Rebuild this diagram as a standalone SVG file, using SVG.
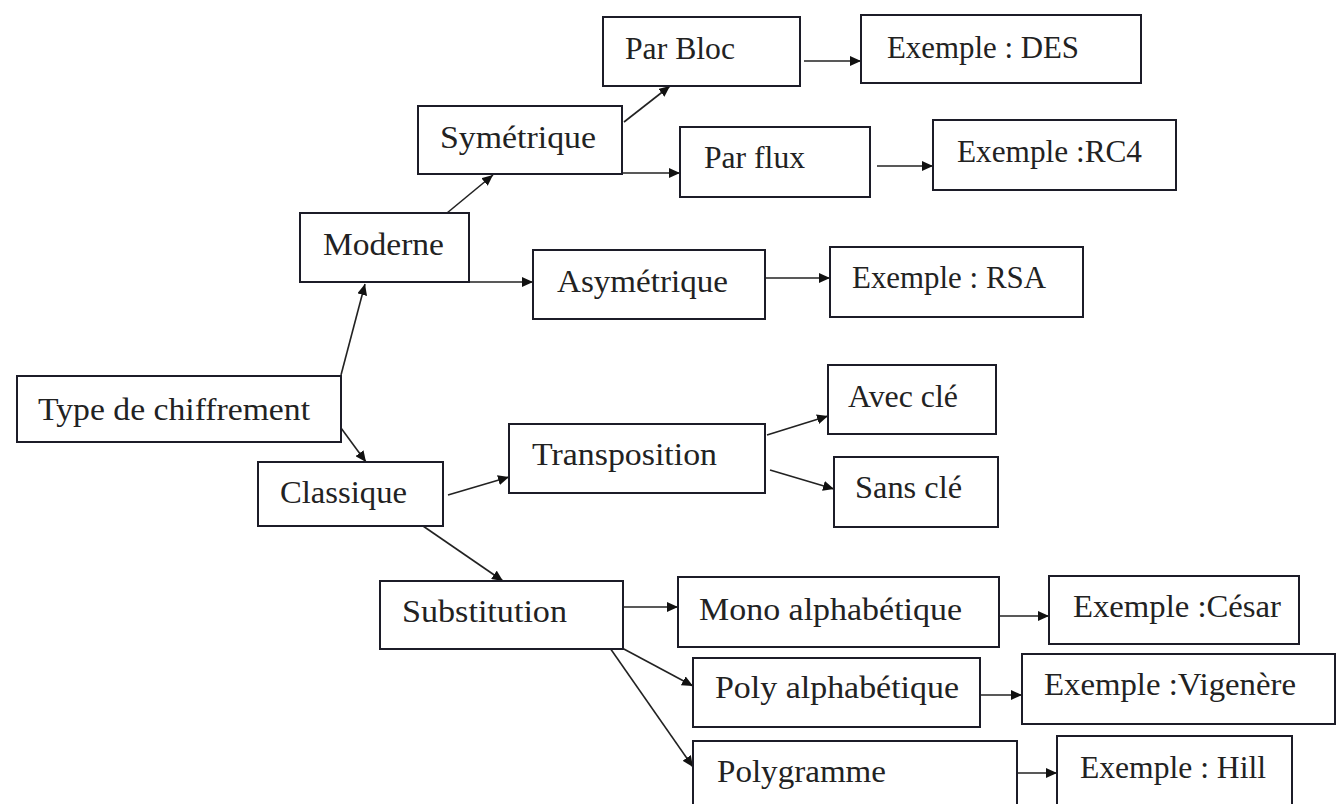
<svg xmlns="http://www.w3.org/2000/svg" width="1341" height="804" viewBox="0 0 1341 804">
<style>
.box{fill:#ffffff;stroke:#1c1c28;stroke-width:2}
.lbl{font-family:"Liberation Serif","DejaVu Serif",serif;font-size:32px;fill:#222222}
.edge{stroke:#222222;stroke-width:1.6;fill:none}
</style>
<defs>
<marker id="ah" markerUnits="userSpaceOnUse" markerWidth="12" markerHeight="10" refX="11" refY="5" orient="auto">
<path d="M0,0 L11,5 L0,10 z" fill="#111111"/>
</marker>
</defs>
<rect width="1341" height="804" fill="#ffffff"/>
<g id="connectors">
<line class="edge" x1="341" y1="375" x2="365" y2="284" marker-end="url(#ah)"/>
<line class="edge" x1="341" y1="428" x2="366" y2="462" marker-end="url(#ah)"/>
<line class="edge" x1="447" y1="213" x2="493" y2="175" marker-end="url(#ah)"/>
<line class="edge" x1="469" y1="282" x2="533" y2="282" marker-end="url(#ah)"/>
<line class="edge" x1="624" y1="122" x2="670" y2="86" marker-end="url(#ah)"/>
<line class="edge" x1="622" y1="173" x2="680" y2="173" marker-end="url(#ah)"/>
<line class="edge" x1="804" y1="61" x2="861" y2="61" marker-end="url(#ah)"/>
<line class="edge" x1="877" y1="166" x2="933" y2="166" marker-end="url(#ah)"/>
<line class="edge" x1="765" y1="278" x2="830" y2="278" marker-end="url(#ah)"/>
<line class="edge" x1="448" y1="495" x2="509" y2="477" marker-end="url(#ah)"/>
<line class="edge" x1="423" y1="526" x2="503" y2="581" marker-end="url(#ah)"/>
<line class="edge" x1="767" y1="435" x2="828" y2="416" marker-end="url(#ah)"/>
<line class="edge" x1="770" y1="470" x2="834" y2="489" marker-end="url(#ah)"/>
<line class="edge" x1="623" y1="607" x2="678" y2="607" marker-end="url(#ah)"/>
<line class="edge" x1="622" y1="648" x2="693" y2="686" marker-end="url(#ah)"/>
<line class="edge" x1="610" y1="648" x2="693" y2="767" marker-end="url(#ah)"/>
<line class="edge" x1="999" y1="616" x2="1049" y2="616" marker-end="url(#ah)"/>
<line class="edge" x1="981" y1="695" x2="1022" y2="695" marker-end="url(#ah)"/>
<line class="edge" x1="1018" y1="773" x2="1057" y2="773" marker-end="url(#ah)"/>
</g>
<g id="n-type"><rect class="box" x="17" y="376" width="324" height="66"/><text class="lbl" x="38" y="420" textLength="272" lengthAdjust="spacingAndGlyphs">Type de chiffrement</text></g>
<g id="n-moderne"><rect class="box" x="300" y="213" width="169" height="69"/><text class="lbl" x="323" y="255" textLength="121" lengthAdjust="spacingAndGlyphs">Moderne</text></g>
<g id="n-symetrique"><rect class="box" x="418" y="106" width="204" height="68"/><text class="lbl" x="440" y="148" textLength="156" lengthAdjust="spacingAndGlyphs">Symétrique</text></g>
<g id="n-parbloc"><rect class="box" x="603" y="17" width="197" height="69"/><text class="lbl" x="625" y="59" textLength="110" lengthAdjust="spacingAndGlyphs">Par Bloc</text></g>
<g id="n-des"><rect class="box" x="861" y="15" width="280" height="68"/><text class="lbl" x="887" y="58" textLength="192" lengthAdjust="spacingAndGlyphs">Exemple : DES</text></g>
<g id="n-parflux"><rect class="box" x="680" y="127" width="190" height="70"/><text class="lbl" x="704" y="168" textLength="101" lengthAdjust="spacingAndGlyphs">Par flux</text></g>
<g id="n-rc4"><rect class="box" x="933" y="120" width="243" height="70"/><text class="lbl" x="957" y="162" textLength="185" lengthAdjust="spacingAndGlyphs">Exemple :RC4</text></g>
<g id="n-asymetrique"><rect class="box" x="533" y="250" width="232" height="69"/><text class="lbl" x="557" y="292" textLength="171" lengthAdjust="spacingAndGlyphs">Asymétrique</text></g>
<g id="n-rsa"><rect class="box" x="830" y="247" width="253" height="70"/><text class="lbl" x="852" y="288" textLength="194" lengthAdjust="spacingAndGlyphs">Exemple : RSA</text></g>
<g id="n-classique"><rect class="box" x="258" y="462" width="185" height="64"/><text class="lbl" x="280" y="503" textLength="127" lengthAdjust="spacingAndGlyphs">Classique</text></g>
<g id="n-transposition"><rect class="box" x="509" y="424" width="256" height="69"/><text class="lbl" x="532" y="465" textLength="185" lengthAdjust="spacingAndGlyphs">Transposition</text></g>
<g id="n-avec"><rect class="box" x="828" y="365" width="168" height="69"/><text class="lbl" x="848" y="407" textLength="110" lengthAdjust="spacingAndGlyphs">Avec clé</text></g>
<g id="n-sans"><rect class="box" x="834" y="457" width="164" height="70"/><text class="lbl" x="855" y="498" textLength="107" lengthAdjust="spacingAndGlyphs">Sans clé</text></g>
<g id="n-substitution"><rect class="box" x="380" y="581" width="243" height="68"/><text class="lbl" x="402" y="622" textLength="165" lengthAdjust="spacingAndGlyphs">Substitution</text></g>
<g id="n-mono"><rect class="box" x="678" y="577" width="321" height="70"/><text class="lbl" x="699" y="620" textLength="263" lengthAdjust="spacingAndGlyphs">Mono alphabétique</text></g>
<g id="n-cesar"><rect class="box" x="1049" y="576" width="250" height="68"/><text class="lbl" x="1073" y="617" textLength="208" lengthAdjust="spacingAndGlyphs">Exemple :César</text></g>
<g id="n-poly"><rect class="box" x="693" y="658" width="287" height="69"/><text class="lbl" x="715" y="698" textLength="244" lengthAdjust="spacingAndGlyphs">Poly alphabétique</text></g>
<g id="n-vigenere"><rect class="box" x="1022" y="654" width="313" height="70"/><text class="lbl" x="1044" y="695" textLength="252" lengthAdjust="spacingAndGlyphs">Exemple :Vigenère</text></g>
<g id="n-polygramme"><rect class="box" x="693" y="741" width="324" height="80"/><text class="lbl" x="717" y="782" textLength="169" lengthAdjust="spacingAndGlyphs">Polygramme</text></g>
<g id="n-hill"><rect class="box" x="1057" y="736" width="235" height="85"/><text class="lbl" x="1080" y="778" textLength="186" lengthAdjust="spacingAndGlyphs">Exemple : Hill</text></g>
</svg>
